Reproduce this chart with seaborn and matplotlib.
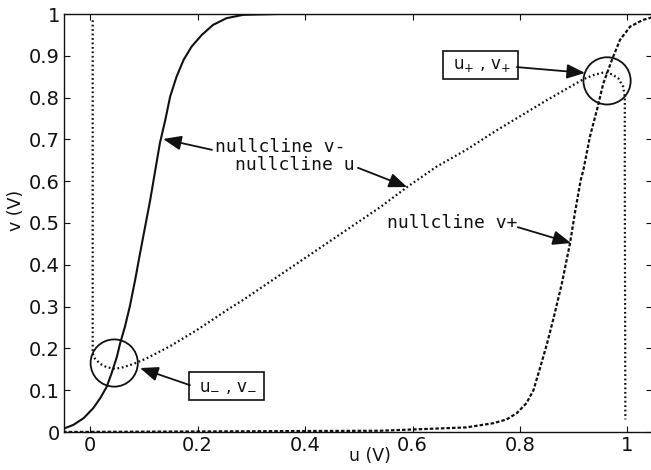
import numpy as np
import pandas as pd
import seaborn as sns
import matplotlib.pyplot as plt

# points (u, v in volts)
v_minus_u = [-0.047, -0.031, -0.012, 0.006, 0.019, 0.031, 0.040, 0.050, 0.056,
             0.065, 0.074, 0.084, 0.093, 0.112, 0.130, 0.140, 0.149, 0.161,
             0.174, 0.189, 0.208, 0.229, 0.254, 0.285, 0.353, 1.05]
v_minus_v = [0.009, 0.017, 0.033, 0.057, 0.081, 0.108, 0.14, 0.18, 0.212,
             0.252, 0.30, 0.364, 0.427, 0.555, 0.691, 0.746, 0.802, 0.85,
             0.89, 0.922, 0.95, 0.974, 0.99, 0.998, 1.0, 1.0]

u_null_u = [0.005, 0.005, 0.009, 0.019, 0.031, 0.047, 0.062, 0.081, 0.105,
            0.15, 0.199, 0.26, 0.285, 0.54, 0.59, 0.645, 0.70, 0.757, 0.85,
            0.918, 0.937, 0.955, 0.971, 0.983, 0.992, 0.995, 0.995, 0.996]
u_null_v = [0.985, 0.188, 0.176, 0.163, 0.155, 0.151, 0.155, 0.163, 0.176,
            0.206, 0.244, 0.296, 0.316, 0.538, 0.586, 0.635, 0.675, 0.722, 0.794,
            0.844, 0.854, 0.86, 0.856, 0.846, 0.826, 0.802, 0.627, 0.03]

v_plus_u = [-0.05, 0.54, 0.60, 0.70, 0.75, 0.775, 0.794, 0.812, 0.825, 0.837,
            0.85, 0.862, 0.878, 0.893, 0.902, 0.913, 0.918, 0.93, 0.943, 0.955,
            0.971, 0.986, 1.005, 1.029, 1.046]
v_plus_v = [0.0, 0.003, 0.006, 0.011, 0.021, 0.030, 0.045, 0.069, 0.10, 0.152,
            0.21, 0.27, 0.356, 0.451, 0.523, 0.603, 0.627, 0.706, 0.77, 0.834,
            0.89, 0.938, 0.97, 0.986, 0.992]

# fixed points (circled)
fixed_u = [0.045, 0.962]
fixed_v = [0.165, 0.84]

ticks_x = [0, 0.2, 0.4, 0.6, 0.8, 1]
ticks_y = [0, 0.1, 0.2, 0.3, 0.4, 0.5, 0.6, 0.7, 0.8, 0.9, 1]

sns.set_style('ticks')
plt.rcParams['font.family'] = ['DejaVu Sans']
plt.rcParams['xtick.direction'] = 'in'
plt.rcParams['ytick.direction'] = 'in'

fig = plt.figure(figsize=(6.51, 4.70), dpi=100)
ax = fig.add_axes([64 / 651, 38 / 470, (652 - 64) / 651, (432 - 14) / 470])

ink = '#111111'
sns.lineplot(x=v_minus_u, y=v_minus_v, sort=False, estimator=None, ax=ax,
             color=ink, lw=1.5)
sns.lineplot(x=u_null_u, y=u_null_v, sort=False, estimator=None, ax=ax,
             color=ink, lw=1.6)
ax.lines[-1].set_linestyle((0, (0.8, 1.2)))
sns.lineplot(x=v_plus_u, y=v_plus_v, sort=False, estimator=None, ax=ax,
             color=ink, lw=1.6)
ax.lines[-1].set_linestyle((0, (1.6, 0.9)))

sns.scatterplot(x=fixed_u, y=fixed_v, ax=ax, s=34 ** 2, facecolors='none',
                edgecolor=ink, linewidth=1.3, zorder=5)

ax.set_xlim(-0.0484, 1.0456)
ax.set_ylim(0, 1)
ax.set_xticks(ticks_x)
ax.set_xticklabels(['0', '0.2', '0.4', '0.6', '0.8', '1'])
ax.set_yticks(ticks_y)
ax.set_yticklabels(['0', '0.1', '0.2', '0.3', '0.4', '0.5', '0.6', '0.7',
                    '0.8', '0.9', '1'])
ax.tick_params(labelsize=14, length=4, width=0.8, pad=3, colors=ink,
               top=True, right=True)
for s in ax.spines.values():
    s.set_visible(True)
    s.set_linewidth(1.0)
    s.set_color(ink)

ax.set_xlabel('u (V)', fontsize=12.5, color=ink, va='top')
ax.xaxis.set_label_coords(0.52, -0.036)
ax.set_ylabel('v (V)', fontsize=12.5, color=ink)
ax.yaxis.set_label_coords(-0.066, 0.53)

mono = dict(family='DejaVu Sans Mono', fontsize=13, color=ink)
arr = dict(arrowstyle='-|>,head_length=0.55,head_width=0.22', color=ink,
           lw=1.3, mutation_scale=20, shrinkA=0, shrinkB=0)

ax.text(0.2326, 0.682, 'nullcline v-', ha='left', va='center', **mono)
ax.annotate('', xy=(0.136, 0.701), xytext=(0.227, 0.675), arrowprops=arr)

ax.text(0.27, 0.639, 'nullcline u', ha='left', va='center', **mono)
ax.annotate('', xy=(0.59, 0.586), xytext=(0.4986, 0.632), arrowprops=arr)

ax.text(0.5526, 0.50, 'nullcline v+', ha='left', va='center', **mono)
ax.annotate('', xy=(0.895, 0.452), xytext=(0.796, 0.49), arrowprops=arr)

box = dict(boxstyle='square,pad=0.3', fc='white', ec=ink, lw=1.2)
ax.text(0.254, 0.111, r' u$_{-}$ , v$_{-}$ ', ha='center', va='center',
        bbox=box, family='DejaVu Sans', fontsize=12, color=ink)
ax.annotate('', xy=(0.093, 0.153), xytext=(0.186, 0.112), arrowprops=arr)

ax.text(0.7265, 0.877, r' u$_{+}$ , v$_{+}$ ', ha='center', va='center',
        bbox=box, family='DejaVu Sans', fontsize=12, color=ink)
ax.annotate('', xy=(0.921, 0.859), xytext=(0.794, 0.873), arrowprops=arr)

fig.savefig('out.png', dpi=100)
